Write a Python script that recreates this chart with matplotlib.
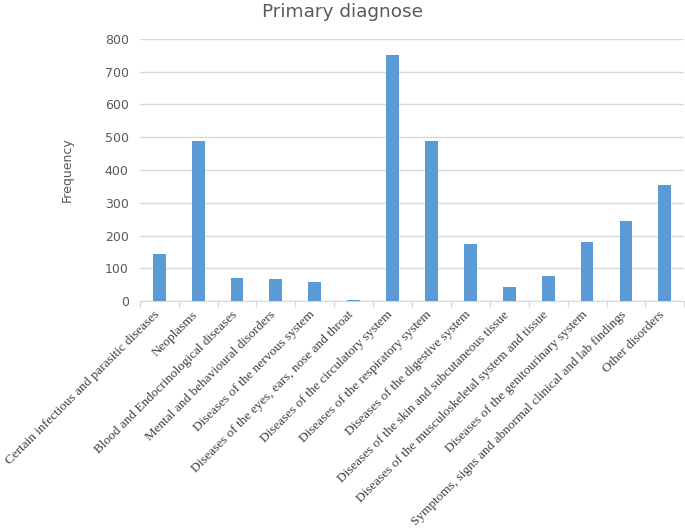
import numpy as np
import matplotlib.pyplot as plt
import matplotlib.transforms as mtransforms

categories = [
    'Certain infectious and parasitic diseases',
    'Neoplasms',
    'Blood and Endocrinological diseases',
    'Mental and behavioural disorders',
    'Diseases of the nervous system',
    'Diseases of the eyes, ears, nose and throat',
    'Diseases of the circulatory system',
    'Diseases of the respiratory system',
    'Diseases of the digestive system',
    'Diseases of the skin and subcutaneous tissue',
    'Diseases of the musculoskeletal system and tissue',
    'Diseases of the genitourinary system',
    'Symptoms, signs and abnormal clinical and lab findings',
    'Other disorders',
]
frequency = [145, 488, 72, 67, 58, 4, 751, 488, 174, 44, 76, 179, 245, 354]
yticks = [0, 100, 200, 300, 400, 500, 600, 700, 800]

fig = plt.figure(figsize=(6.85, 5.32), dpi=100)
ax = fig.add_axes([0.204, 0.434, 0.795, 0.493])

x = np.arange(len(categories))
ax.bar(x, frequency, width=0.33, color='#5B9BD5', zorder=3)

ax.set_xlim(-0.5, len(categories) - 0.5)
ax.set_ylim(0, 800)
ax.set_yticks(yticks)
ax.tick_params(axis='y', length=0, labelsize=9, labelcolor='#595959', pad=8)
ax.yaxis.grid(True, color='#D9D9D9', linewidth=1, zorder=0)

# category labels, slanted, serif
ax.set_xticks(x)
ax.set_xticklabels(categories, rotation=45, ha='right', va='top',
                   rotation_mode='anchor', family='Liberation Serif',
                   fontsize=9.5, color='#404040')
ax.tick_params(axis='x', which='major', length=0, pad=4)
shift = mtransforms.ScaledTranslation(-6 / 100, -2 / 100, fig.dpi_scale_trans)
for lbl in ax.get_xticklabels():
    lbl.set_transform(lbl.get_transform() + shift)
ax.set_xticks(np.arange(-0.5, len(categories)), minor=True)
ax.tick_params(axis='x', which='minor', length=4, color='#D9D9D9', width=1)

for side in ['top', 'right', 'left']:
    ax.spines[side].set_visible(False)
ax.spines['bottom'].set_color('#D9D9D9')

ax.set_ylabel('Frequency', fontsize=9, color='#595959', labelpad=22)
fig.suptitle('Primary diagnose', x=0.5, y=0.995, va='top',
             fontsize=13.3, color='#595959')

fig.savefig('out.png', dpi=100)
